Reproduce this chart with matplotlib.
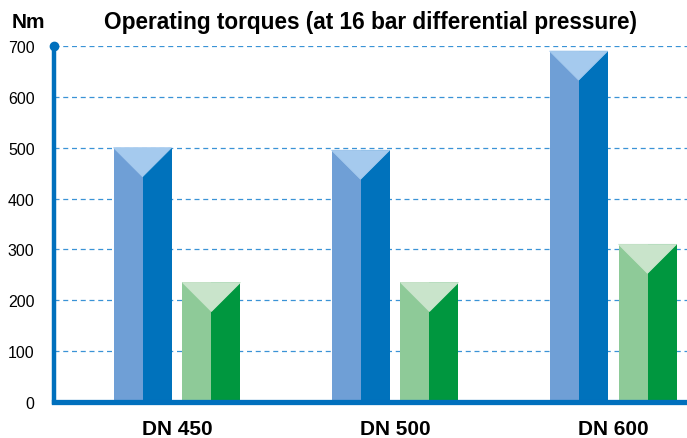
import matplotlib
matplotlib.use("Agg")
from matplotlib import pyplot as plt
from matplotlib.patches import Polygon
import numpy as np

plt.rcParams['font.family'] = ['Liberation Sans', 'DejaVu Sans']

categories = ['DN 450', 'DN 500', 'DN 600']
blue_values = [500, 495, 690]
green_values = [235, 235, 310]
yticks = [0, 100, 200, 300, 400, 500, 600, 700]

axis_blue = '#0070BD'
blue = ('#6F9FD6', '#0072BC', '#A5CAEE')    # left face, right face, top
green = ('#8ECA98', '#00973F', '#C9E4CB')

fig = plt.figure(figsize=(6.87, 4.39), dpi=100)
ax = fig.add_axes([54 / 687, 1 - 403 / 439, 1 - 54 / 687, 356 / 439])

x = np.arange(len(categories))
w = 0.266
off = 0.158
depth = 57  # depth of the top triangle, in Nm (about 45 degrees on screen)

for vals, cols, sign in [(blue_values, blue, -1), (green_values, green, 1)]:
    xc = x + sign * off
    ax.bar(xc - w / 4, vals, width=w / 2, color=cols[0], zorder=3, linewidth=0)
    ax.bar(xc + w / 4, vals, width=w / 2, color=cols[1], zorder=3, linewidth=0)
    for c, v in zip(xc, vals):
        tri = Polygon([[c - w / 2, v], [c + w / 2, v], [c, v - depth]],
                      closed=True, facecolor=cols[2], edgecolor=cols[2],
                      linewidth=0.6, zorder=4)
        ax.add_patch(tri)

ax.set_xlim(-0.564, 2.339)
ax.set_ylim(0, 700)

ax.set_yticks(yticks)
ax.set_yticklabels([str(t) for t in yticks], fontsize=11.5)
ax.tick_params(axis='y', length=0, pad=14)
ax.set_xticks(x)
ax.set_xticklabels(categories, fontsize=15, fontweight='bold')
ax.tick_params(axis='x', length=0, pad=12)

for t in yticks[1:]:
    ax.axhline(t, color='#3A93D6', linewidth=0.9, linestyle=(0, (4, 3)), zorder=1)

for s in ['top', 'right']:
    ax.spines[s].set_visible(False)
ax.spines['left'].set_color(axis_blue)
ax.spines['left'].set_linewidth(3.2)
ax.spines['bottom'].set_color(axis_blue)
ax.spines['bottom'].set_linewidth(3.8)
ax.spines['bottom'].set_zorder(5)
ax.plot([-0.564], [700], 'o', color=axis_blue, markersize=6, clip_on=False, zorder=6)

fig.text(12 / 687, 1 - 22 / 439, 'Nm', fontsize=15, fontweight='bold', va='center', ha='left')
fig.text(371 / 687, 1 - 22 / 439, 'Operating torques (at 16 bar differential pressure)',
         fontsize=16.3, fontweight='bold', va='center', ha='center')

fig.savefig('out.png', dpi=100)
